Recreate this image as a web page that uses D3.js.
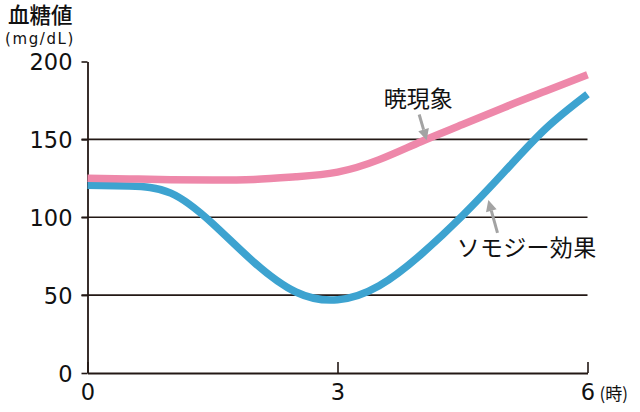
<!DOCTYPE html>
<html><head><meta charset="utf-8">
<script src="https://cdn.jsdelivr.net/npm/d3@7"></script>
<style>
html,body{margin:0;padding:0;background:#fff;}
svg{display:block;}
</style></head>
<body>
<svg id="chart" width="640" height="412"></svg>
<script>
// ---- data ----
const hours = [0, 0.5, 1, 1.5, 2, 2.5, 3, 3.5, 4, 4.5, 5, 5.5, 6];
const dawnValues    = [125, 124.6, 124.1, 123.9, 124.3, 126, 129, 137, 148.5, 159.5, 170.5, 181, 191.5];
const somogyiValues = [120.5, 120, 115.5, 96, 71, 52, 47, 56, 76, 101, 129, 157, 179];
const yTicks = [0, 50, 100, 150, 200];
const xTicks = [0, 3, 6];
const gridValues = [50, 100, 150];
const yTitle = "血糖値";
const yUnit = "(mg/dL)";
const xUnit = "(時)";
const labelDawn = "暁現象";
const labelSomogyi = "ソモジー効果";

const svg = d3.select("#chart");
const x = d3.scaleLinear().domain([0, 6]).range([87.5, 587.5]);
const y = d3.scaleLinear().domain([0, 200]).range([373, 61.5]);
const axisColor = "#231815";
const numFont = "'DejaVu Sans', sans-serif";
const jpFont = "'Noto Sans CJK JP', sans-serif";

// gridlines
svg.append("g").selectAll("line").data(gridValues).join("line")
  .attr("x1", x(0) - 6).attr("x2", x(6))
  .attr("y1", d => y(d)).attr("y2", d => y(d))
  .attr("stroke", axisColor).attr("stroke-width", 1.6);

// y axis
const gy = svg.append("g").attr("transform", `translate(${x(0)},0)`)
  .call(d3.axisLeft(y).tickValues(yTicks).tickSize(6).tickSizeOuter(0).tickPadding(9).tickFormat(d3.format("d")));
gy.select(".domain").attr("stroke", axisColor).attr("stroke-width", 1.8);
gy.selectAll(".tick line").attr("stroke", axisColor).attr("stroke-width", 1.6);
gy.selectAll("text").attr("font-family", numFont).attr("font-size", 22.5)
  .attr("fill", "#111").attr("dy", "0.36em");

// x axis
const gx = svg.append("g").attr("transform", `translate(0,${y(0)})`)
  .call(d3.axisBottom(x).tickValues(xTicks).tickSize(-11).tickSizeOuter(0).tickPadding(11).tickFormat(d3.format("d")));
gx.select(".domain").attr("stroke", axisColor).attr("stroke-width", 1.8);
gx.selectAll(".tick line").attr("stroke", axisColor).attr("stroke-width", 1.6);
gx.selectAll("text").attr("font-family", numFont).attr("font-size", 22.5).attr("fill", "#111");

// x unit
svg.append("text").attr("x", x(6) + 12).attr("y", y(0) + 27)
  .attr("font-family", jpFont).attr("font-size", 17).attr("fill", "#111").text(xUnit);

// titles
svg.append("text").attr("x", 8).attr("y", 23).attr("font-family", jpFont).attr("font-weight", 500)
  .attr("font-size", 21.5).attr("fill", "#111").text(yTitle);
svg.append("text").attr("x", 5).attr("y", 44).attr("font-family", numFont)
  .attr("font-size", 15).attr("letter-spacing", 1.6).attr("fill", "#111").text(yUnit);

// curves
const line = d3.line().x(d => x(d[0])).y(d => y(d[1])).curve(d3.curveNatural);
svg.append("path").datum(hours.map((h, i) => [h, somogyiValues[i]]))
  .attr("d", line).attr("fill", "none").attr("stroke", "#3da3d0").attr("stroke-width", 7.5);
svg.append("path").datum(hours.map((h, i) => [h, dawnValues[i]]))
  .attr("d", line).attr("fill", "none").attr("stroke", "#ee88aa").attr("stroke-width", 7.5);

// annotations (data coordinates)
const arrowColor = "#a3a3a3";
function arrow(from, to) {
  const x1 = x(from[0]), y1 = y(from[1]), x2 = x(to[0]), y2 = y(to[1]);
  const ang = Math.atan2(y2 - y1, x2 - x1);
  const L = 11, W = 5.5;
  const bx = x2 - L * Math.cos(ang), by = y2 - L * Math.sin(ang);
  svg.append("line").attr("x1", x1).attr("y1", y1).attr("x2", bx).attr("y2", by)
    .attr("stroke", arrowColor).attr("stroke-width", 3);
  const px = -Math.sin(ang), py = Math.cos(ang);
  svg.append("polygon").attr("points",
    [[x2, y2], [bx + px * W, by + py * W], [bx - px * W, by - py * W]].map(p => p.join(",")).join(" "))
    .attr("fill", arrowColor);
}
arrow([3.98, 166], [4.07, 149.5]);
arrow([4.92, 90], [4.81, 111]);

svg.append("text").attr("x", x(3.97)).attr("y", y(170.5)).attr("text-anchor", "middle")
  .attr("font-family", jpFont).attr("font-size", 23).attr("fill", "#111").text(labelDawn);
svg.append("text").attr("x", x(4.43)).attr("y", y(75)).attr("text-anchor", "start")
  .attr("font-family", jpFont).attr("font-size", 23).attr("letter-spacing", 0.3).attr("fill", "#111").text(labelSomogyi);
</script>
</body></html>
